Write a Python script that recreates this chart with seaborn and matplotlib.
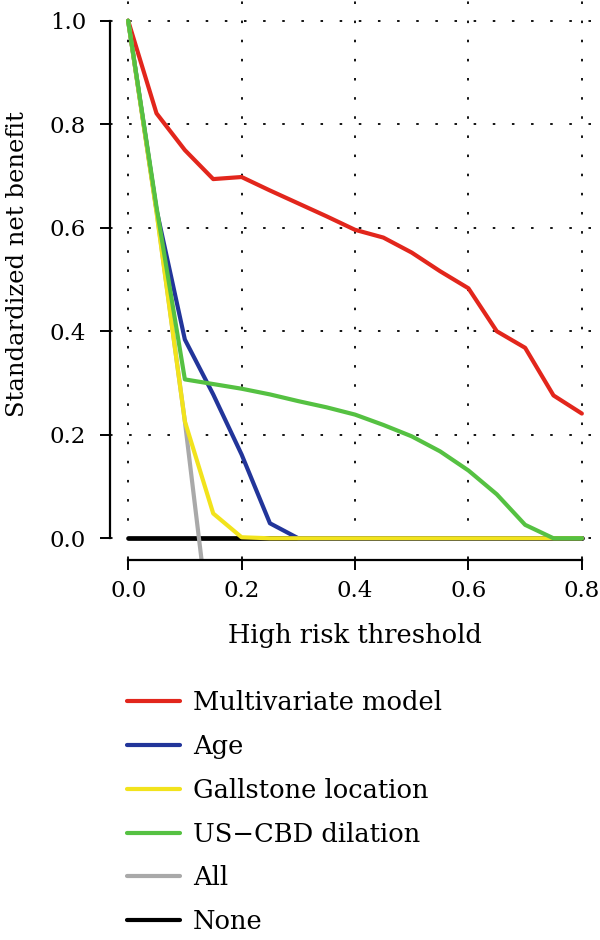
import matplotlib
matplotlib.use("Agg")
import matplotlib.pyplot as plt
import seaborn as sns
import pandas as pd
from matplotlib.lines import Line2D

# ---- data ----
thresholds = [0.00, 0.05, 0.10, 0.15, 0.20, 0.25, 0.30, 0.35, 0.40,
              0.45, 0.50, 0.55, 0.60, 0.65, 0.70, 0.75, 0.80]
multivariate = [1.000, 0.821, 0.750, 0.694, 0.698, 0.672, 0.647, 0.622, 0.596,
                0.581, 0.552, 0.516, 0.483, 0.400, 0.368, 0.276, 0.241]
age = [1.000, 0.635, 0.384, 0.278, 0.162, 0.029, 0.000, 0.000, 0.000,
       0.000, 0.000, 0.000, 0.000, 0.000, 0.000, 0.000, 0.000]
gallstone = [1.000, 0.630, 0.226, 0.048, 0.002, 0.000, 0.000, 0.000, 0.000,
             0.000, 0.000, 0.000, 0.000, 0.000, 0.000, 0.000, 0.000]
us_cbd = [1.000, 0.640, 0.307, 0.298, 0.289, 0.278, 0.265, 0.253, 0.239,
          0.219, 0.197, 0.168, 0.131, 0.085, 0.026, 0.000, 0.000]
all_thr = [0.00, 0.05, 0.10, 0.15]
treat_all = [1.000, 0.633, 0.226, -0.229]
none_thr = [0.00, 0.80]
treat_none = [0.0, 0.0]

series_names = ["Multivariate model", "Age", "Gallstone location",
                "US\u2212CBD dilation", "All", "None"]
colors = ["#E2261C", "#22359A", "#F2E31C", "#55C142", "#A9A9A9", "#000000"]

x_ticks = [0.0, 0.2, 0.4, 0.6, 0.8]
y_ticks = [0.0, 0.2, 0.4, 0.6, 0.8, 1.0]

sns.set_theme(style="white")
plt.rcParams["font.family"] = ["DejaVu Serif"]
plt.rcParams["text.color"] = "black"
plt.rcParams["axes.labelcolor"] = "black"
plt.rcParams["xtick.bottom"] = True
plt.rcParams["ytick.left"] = True

fig = plt.figure(figsize=(6.0, 9.4), dpi=100)
ax = fig.add_axes([110 / 600, 1 - 559 / 940, 490 / 600, 559 / 940])

# dotted grid
for xv in x_ticks:
    ax.axvline(xv, color="black", lw=1.3, ls=(0, (1.4, 9.2)), zorder=0)
for yv in y_ticks:
    ax.axhline(yv, color="black", lw=1.3, ls=(0, (1.4, 9.2)), zorder=0)

lw = 3.0
data = [
    (none_thr, treat_none, 5, 3.4),
    (all_thr, treat_all, 4, lw),
    (thresholds, multivariate, 0, lw),
    (thresholds, age, 1, lw),
    (thresholds, gallstone, 2, lw),
    (thresholds, us_cbd, 3, lw),
]
for xs, ys, idx, w in data:
    df = pd.DataFrame({"x": xs, "y": ys})
    sns.lineplot(data=df, x="x", y="y", ax=ax, color=colors[idx], lw=w,
                 estimator=None, sort=False, legend=False)

ax.set_xlim(-0.032, 0.832)
ax.set_ylim(-0.04, 1.04)
ax.set_xticks(x_ticks)
ax.set_xticklabels([f"{v:.1f}" for v in x_ticks])
ax.set_yticks(y_ticks)
ax.set_yticklabels([f"{v:.1f}" for v in y_ticks])

sns.despine(ax=ax, top=True, right=True)
for s in ["left", "bottom"]:
    ax.spines[s].set_visible(True)
    ax.spines[s].set_color("black")
    ax.spines[s].set_linewidth(1.6)
    ax.spines[s].set_zorder(6)
ax.spines["left"].set_bounds(0, 1)
ax.spines["bottom"].set_bounds(0, 0.8)
ax.spines["bottom"].set_position(("outward", 1))

ax.tick_params(axis="both", direction="out", length=7.2, width=1.4,
               colors="black", labelsize=16.5, bottom=True, left=True)
ax.tick_params(axis="y", pad=10)
ax.tick_params(axis="x", pad=7)
ax.set_xlabel("High risk threshold", fontsize=18.5, labelpad=15)
ax.set_ylabel("Standardized net benefit", fontsize=17.5)
ax.yaxis.set_label_coords(-0.165, 0.527)

handles = [Line2D([0], [0], color=c, lw=3) for c in colors]
fig.legend(handles, series_names, loc="upper left",
           bbox_to_anchor=(117 / 600, 1 - 680 / 940), frameon=False,
           fontsize=18.5, handlelength=2.06, handletextpad=0.5,
           labelspacing=0.73, borderaxespad=0)

fig.savefig("out.png", dpi=100)
